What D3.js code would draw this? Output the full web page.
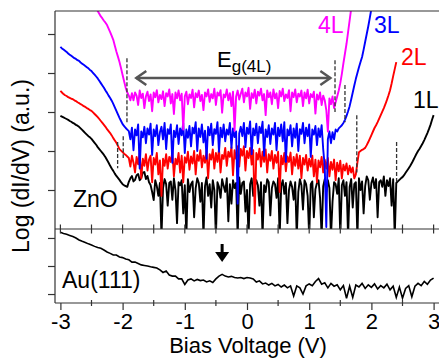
<!DOCTYPE html>
<html>
<head>
<meta charset="utf-8">
<script src="https://cdn.jsdelivr.net/npm/d3@7"></script>
<style>
  body { margin: 0; background: #fff; }
  svg { display: block; font-family: "Liberation Sans", Arial, sans-serif; }
</style>
</head>
<body>
<div id="chart"></div>
<script>
// bias grids: ZnO spectra every 0.025 V (241 pts), Au(111) every 0.05 V (121 pts)
const biasZnO = d3.range(241).map(i => +(-3 + i * 0.025).toFixed(3));
const biasAu = d3.range(121).map(i => +(-3 + i * 0.05).toFixed(2));

// ZnO layers, log(dI/dV) in a.u. (null = off the trace)
const zno1L = [
  2.90, 2.88, 2.86, 2.84, 2.82, 2.80, 2.77, 2.75, 2.72, 2.70, 2.67, 2.65, 2.62, 2.58, 2.54, 2.50, 2.46, 2.42, 2.38, 2.35,
  2.31, 2.26, 2.21, 2.16, 2.10, 2.05, 2.00, 1.95, 1.90, 1.84, 1.77, 1.70, 1.62, 1.55, 1.49, 1.42, 1.36, 1.31, 1.26, 1.20,
  1.15, 1.12, 1.10, 1.08, 1.21, 1.30, 1.36, 1.22, 1.26, 1.38, 1.41, 1.25, 1.31, 1.45, 1.46, 1.28, 1.36, 1.20, 1.13, 0.95,
  0.74,
  1.25, 1.10, 0.85, 1.18, -0.2, 1.05, 1.28, 1.15, 0.60, 1.18,
  1.22, 0.75, 1.30, 1.00, 0.15, 1.20, 1.12, 1.25, 0.40, 1.12,
  -0.2, 1.28, 0.95, 1.15, 1.22, 0.30, 1.05, 1.30, 1.18, 0.70,
  1.18, -0.2, 1.10, 1.32, 0.85, 1.15, 0.55, 1.25, 1.00, -0.2,
  1.20, 1.08, 0.80, 1.28, 1.10, 0.95, 1.30, 0.20, 1.15, 0.65,
  1.25, 1.05, 1.18, -0.2, 1.32, 0.90, 1.18, 1.22, 0.45, 1.00,
  -0.2, 1.15, 1.30, 0.85, 1.08, 1.25, 1.12, 0.60, 1.20, -0.2,
  1.12, 0.95, 1.28, 1.20, 0.35, 1.05, 1.22, 1.15, 0.80, 1.30,
  -0.2, 1.10, 1.25, 0.90, 1.18, 0.15, 1.00, 1.22, 1.08, 0.75,
  1.20, -0.2, 0.95, 1.28, 1.12, 0.50, 1.25, 1.15, 0.85, -0.2,
  1.15, 1.22, 0.30, 1.02, 1.18, 1.25, 0.80, -0.2, 1.10, 1.28,
  0.95, 1.25, 1.05, -0.2, 0.70, 1.20, 1.15, 0.90, 1.30, -0.2,
  1.12, 1.25, 0.85, 1.20, -0.2, 1.08, 1.28, 0.55, 1.15, 1.20,
  -0.2, 1.30, 1.00, 1.22, 0.40, 1.10, 1.35, 1.25, 0.75, 1.18,
  1.32, 1.05, 1.28, 0.30, 1.20, 1.25, 1.08, 1.35, 0.85, 1.25,
  1.10, 1.30, 0.60, 1.28, -0.2,
  1.18, 1.22, 1.26, 1.30, 1.33, 1.38, 1.44, 1.50, 1.56, 1.62, 1.69, 1.77, 1.85, 1.93, 2.00, 2.06, 2.13, 2.20, 2.28, 2.37,
  2.46, 2.56, 2.67, 2.80, 2.92];

const zno2L = [
  3.54, 3.50, 3.46, 3.43, 3.41, 3.38, 3.36, 3.34, 3.33, 3.30, 3.28, 3.25, 3.23, 3.20, 3.18, 3.15, 3.13, 3.10, 3.08, 3.05,
  3.03, 2.99, 2.95, 2.91, 2.87, 2.82, 2.77, 2.72, 2.67, 2.62, 2.56, 2.51, 2.46, 2.40, 2.33, 2.27, 2.21, 2.13, 2.05, 2.01,
  1.97, 1.93, 1.90, 1.86, 1.82,
  1.60, 1.88, 1.70, 1.45, 1.85, 1.66, 1.95, 1.30, 1.80, 1.62,
  1.92, 1.50, 1.78, 1.88, 1.20, 1.82, 1.65, 1.95, 1.40, 1.76,
  0.85, 1.80, 1.62, 1.92, 1.55, 1.85, 1.72, 1.98, 1.35, 1.80,
  1.66, 1.95, 1.45, 1.88, 1.20, 1.84, 1.70, 1.98, 1.52, 1.86,
  1.68, 2.00, 1.40, 1.90, 1.75, 2.02, 1.58, 1.88, 1.70, 2.00,
  1.30, 1.92, 1.78, 2.04, 1.55, 1.95, 1.72, 2.05, 1.45, 1.90,
  1.80, 2.08, 1.62, 1.98, 1.85, 2.10, 1.38, 2.02, 1.80, 2.12,
  1.60, 2.05, 1.88, 2.12, 1.50, 2.00, 1.82, 2.08, 1.65, 2.02,
  0.40, 1.95, 1.78, 2.06, 1.60, 1.98, 1.72, 2.04, 1.45, 1.92,
  1.75, 2.00, 1.55, 1.90, 1.70, 1.98, 0.95, 1.88, 1.66, 1.95,
  1.48, 1.86, 1.72, 1.96, 1.40, 1.85, 1.62, 1.92, 1.55, 1.88,
  1.30, 1.82, 1.65, 1.90, 1.50, 1.80, 1.60, 1.88, 1.35, 1.78,
  1.20, 1.76, 1.58, 1.85, 1.45, 1.78, 1.55, 1.82, 1.35, 1.72,
  1.52, 1.78, 1.25, 1.70, 1.48, 1.75, 1.30, 1.65, 1.50, 1.68,
  1.40, 1.62, 1.45, 1.58, 1.30, 1.40,
  1.70, 1.97, 2.00, 2.03, 2.05, 2.08, 2.15, 2.23, 2.32, 2.41, 2.50, 2.59, 2.66, 2.74, 2.83, 2.92, 3.01, 3.10, 3.20, 3.31,
  3.43, 3.56, 3.73, 3.92, 4.10, 4.28,
  null, null, null, null, null, null, null, null, null, null, null, null,
  null, null, null, null, null, null, null, null, null, null, null, null];

const zno3L = [
  4.67, 4.63, 4.60, 4.57, 4.54, 4.50, 4.47, 4.44, 4.41, 4.38, 4.36, 4.33, 4.31, 4.27, 4.24, 4.21, 4.18, 4.15, 4.12, 4.08,
  4.05, 4.00, 3.96, 3.91, 3.86, 3.80, 3.74, 3.68, 3.62, 3.55, 3.49, 3.42, 3.36, 3.29, 3.21, 3.12, 3.03, 2.94, 2.85, 2.77,
  2.69, 2.64, 2.59, 2.55, 2.51,
  2.30, 2.60, 2.02, 2.55, 2.40, 2.68, 1.55, 2.50, 2.35, 2.62,
  2.20, 2.58, 2.42, 2.70, 1.90, 2.55, 2.38, 2.66, 2.15, 2.48,
  2.62, 2.30, 2.72, 2.05, 2.56, 2.44, 2.68, 1.70, 2.52, 2.36,
  2.66, 2.18, 2.58, 2.40, 2.72, 1.95, 2.55, 2.34, 2.64, 2.12,
  2.60, 2.45, 2.74, 2.00, 2.58, 2.36, 2.68, 2.22, 2.52, 1.80,
  2.62, 2.40, 2.70, 2.15, 2.56, 2.44, 2.74, 1.98, 2.60, 2.35,
  2.68, 2.25, 2.55, 2.42, 2.72, 2.08, 2.58, 2.36, 2.50, 0.65,
  2.45, 2.62, 2.38, 2.72, 2.10, 2.60, 2.44, 2.76, 1.92, 2.58,
  2.40, 2.70, 2.20, 2.62, 2.46, 2.75, 1.88, 2.55, 2.36, 2.66,
  2.18, 2.58, 2.42, 2.72, 2.02, 2.60, 2.38, 2.68, 2.25, 2.74,
  1.72, 2.55, 2.40, 2.66, 2.12, 2.58, 2.34, 2.70, 2.00, 2.56,
  2.44, 2.72, 2.20, 2.60, 2.38, 2.68, 1.85, 2.55, 2.42, 2.64,
  2.15, 2.58, 2.36, 2.66, 2.05, 1.60, 0.05, 2.30, 2.50, 2.20,
  2.48, 2.30, 2.55, 2.50,
  2.58, 2.62, 2.66, 2.72, 2.80, 2.90, 3.02, 3.15, 3.32, 3.50, 3.68, 3.85, 4.00, 4.15, 4.28, 4.41, 4.60, 4.80, 5.00, 5.20,
  5.42, 5.65, 5.85, 6.05,
  null, null, null, null, null, null, null, null, null, null, null, null, null, null, null, null, null, null, null,
  null, null, null, null, null, null, null, null, null, null, null, null, null, null, null, null, null, null, null];

const zno4L = [
  null, null, null, null, null, null, null, null, null, null, null, null, null, null, null, null, null, null, null, null,
  null, null,
  5.72, 5.65, 5.59, 5.52, 5.45, 5.40, 5.34, 5.29, 5.23, 5.14, 5.05, 4.95, 4.85, 4.70, 4.55, 4.42, 4.28, 4.12, 3.95, 3.78,
  3.62, 3.50, 3.42, 3.30, 3.48,
  3.30, 3.50, 3.42, 3.18, 3.55, 3.36, 3.47, 3.10, 3.40, 3.52,
  3.28, 3.45, 3.02, 3.50, 3.38, 3.56, 3.25, 3.44, 3.33, 3.53,
  3.15, 3.48, 3.40, 3.58, 3.22, 3.46, 2.95, 3.50, 3.35, 3.55,
  3.30, 3.47, 2.55, 3.40, 3.52, 3.20, 3.45, 3.36, 3.57, 3.12,
  3.48, 3.38, 3.55, 3.28, 3.44, 3.05, 3.50, 3.40, 3.58, 3.26,
  3.46, 3.35, 3.60, 3.18, 3.50, 3.42, 3.56, 2.98, 3.45, 3.38,
  3.58, 3.30, 3.48, 3.15, 3.52, 2.52, 3.40, 3.55, 3.32, 3.47,
  3.60, 3.25, 3.50, 3.40, 3.62, 3.08, 3.48, 3.36, 3.57, 3.22,
  3.52, 3.42, 3.60, 3.30, 3.46, 2.92, 3.55, 3.38, 3.50, 3.20,
  3.58, 3.35, 3.48, 3.10, 3.54, 3.40, 3.60, 3.28, 3.45, 3.36,
  3.56, 3.02, 3.50, 3.38, 3.58, 3.25, 3.47, 3.40, 3.55, 3.15,
  3.50, 3.35, 3.57, 3.22, 3.46, 3.38, 3.52, 2.96, 3.45, 3.32,
  3.50, 3.18, 3.42, 3.30, 3.05, 2.50, 3.35, 3.20, 3.40, 3.10,
  3.25, 3.40, 3.55, 3.74, 3.98, 4.25, 4.50, 4.75, 5.05, 5.35, 5.65, 6.00,
  null, null, null, null, null, null, null, null, null, null, null, null, null, null, null, null, null, null, null, null,
  null, null, null, null, null, null, null, null, null, null, null, null, null, null, null, null, null, null, null, null,
  null, null, null, null, null, null, null, null, null, null, null, null];

// Au(111) reference spectrum
const au111 = [2.20, 2.16, 2.13, 2.09, 2.05, 2.00, 1.93, 1.88, 1.84, 1.79, 1.75, 1.70, 1.66, 1.63, 1.57, 1.50, 1.45, 1.39, 1.39, 1.32,
  1.30, 1.25, 1.22, 1.14, 1.14, 1.09, 1.04, 1.02, 1.00, 0.97, 0.95, 0.93, 0.86, 0.77, 0.82, 0.68, 0.64, 0.64, 0.54, 0.54,
  0.34, 0.50, 0.54, 0.47, 0.52, 0.48, 0.50, 0.43, 0.47, 0.41, 0.54, 0.64, 0.70, 0.64, 0.61, 0.63, 0.59, 0.57, 0.59, 0.55,
  0.59, 0.57, 0.54, 0.43, 0.47, 0.36, 0.39, 0.32, 0.38, 0.29, 0.34, 0.25, 0.32, 0.22, 0.29, -0.07, 0.29, 0.22, 0.00, 0.29,
  0.36, 0.30, 0.45, 0.55, 0.35, 0.40, 0.22, 0.38, 0.28, 0.33, 0.15, 0.30, -0.15, 0.28, -0.12, 0.32, 0.25, 0.38, 0.20, 0.33,
  0.24, 0.36, 0.18, 0.30, 0.22, 0.35, 0.15, 0.28, -0.12, 0.25, -0.15, 0.20, 0.30, -0.10, 0.28, 0.38, 0.30, 0.45, 0.35, 0.50,
  0.57];

const layers = [
  { name: "1L", values: zno1L, color: "#000000" },
  { name: "2L", values: zno2L, color: "#ff0000" },
  { name: "3L", values: zno3L, color: "#0000ff" },
  { name: "4L", values: zno4L, color: "#ff00ff" }
];

// gap edges: [bias, yFrom, yTo]
const gapMarks = [[-1.93, 4.38, 2.72], [-1.99, 2.38, 1.82], [-2.08, 2.23, 1.56],
  [1.415, 4.33, 3.0], [1.575, 3.69, 2.74], [1.765, 2.92, 1.45], [2.405, 2.23, 1.18]];
const xTicks = [-3, -2, -1, 0, 1, 2, 3];

const width = 439, height = 358;
const svg = d3.select("#chart").append("svg")
  .attr("width", width).attr("height", height);

const x = d3.scaleLinear().domain([-3, 3]).range([60.4, 433.6]);
const yTop = d3.scaleLinear().domain([0, 5.59]).range([229, 11]);
const yBot = d3.scaleLinear().domain([-0.32, 2.32]).range([303, 229]);

const defs = svg.append("defs");
defs.append("clipPath").attr("id", "clipTop").append("rect")
  .attr("x", 55).attr("y", 11).attr("width", width - 55).attr("height", 218);
defs.append("clipPath").attr("id", "clipBot").append("rect")
  .attr("x", 55).attr("y", 229).attr("width", width - 55).attr("height", 74);

// curves
const lineTop = d3.line()
  .defined(d => d[1] != null)
  .x(d => x(d[0])).y(d => yTop(d[1]));
const lineBot = d3.line().x(d => x(d[0])).y(d => yBot(d[1]));

const gTop = svg.append("g").attr("clip-path", "url(#clipTop)");
layers.forEach(l => {
  gTop.append("path")
    .datum(biasZnO.map((b, i) => [b, l.values[i]]))
    .attr("d", lineTop)
    .attr("fill", "none")
    .attr("stroke", l.color)
    .attr("stroke-width", 1.9)
    .attr("stroke-linejoin", "round");
});

svg.append("g").attr("clip-path", "url(#clipBot)")
  .append("path")
  .datum(biasAu.map((b, i) => [b, au111[i]]))
  .attr("d", lineBot)
  .attr("fill", "none")
  .attr("stroke", "#000")
  .attr("stroke-width", 1.6);

// dashed gap edges
svg.append("g").selectAll("line").data(gapMarks).join("line")
  .attr("x1", d => x(d[0])).attr("x2", d => x(d[0]))
  .attr("y1", d => yTop(d[1])).attr("y2", d => yTop(d[2]))
  .attr("stroke", "#333").attr("stroke-width", 1.3)
  .attr("stroke-dasharray", "4,2");

// frame
const frame = svg.append("g").attr("stroke", "#333").attr("stroke-width", 1.2);
frame.append("line").attr("x1", 55).attr("x2", width).attr("y1", 11).attr("y2", 11);
frame.append("line").attr("x1", 55).attr("x2", width).attr("y1", 229).attr("y2", 229);
frame.append("line").attr("x1", 55).attr("x2", width).attr("y1", 303).attr("y2", 303);
frame.append("line").attr("x1", 55).attr("x2", 55).attr("y1", 11).attr("y2", 303);

// y ticks (no labels)
svg.append("g").attr("transform", "translate(55,0)")
  .call(d3.axisLeft(yTop).tickValues([1, 2, 3, 4, 5]).tickSize(7).tickFormat(""))
  .call(g => g.select(".domain").remove())
  .call(g => g.selectAll("line").attr("stroke", "#333").attr("stroke-width", 1.2));
svg.append("g").attr("transform", "translate(55,0)")
  .call(d3.axisLeft(yBot).tickValues([0, 1, 2]).tickSize(7).tickFormat(""))
  .call(g => g.select(".domain").remove())
  .call(g => g.selectAll("line").attr("stroke", "#333").attr("stroke-width", 1.2));

// x ticks on the panel divider
const halfTicks = d3.range(13).map(i => -3 + i * 0.5);
svg.append("g").selectAll("line").data(halfTicks).join("line")
  .attr("x1", d => x(d)).attr("x2", d => x(d))
  .attr("y1", 224.5).attr("y2", 233.5)
  .attr("stroke", "#333").attr("stroke-width", 1.2);
// minor ticks on bottom axis
svg.append("g").selectAll("line").data(halfTicks.filter(d => d % 1 !== 0)).join("line")
  .attr("x1", d => x(d)).attr("x2", d => x(d))
  .attr("y1", 300).attr("y2", 306)
  .attr("stroke", "#333").attr("stroke-width", 1.2);

// bottom axis
svg.append("g").attr("transform", "translate(0,303)")
  .call(d3.axisBottom(x).tickValues(xTicks).tickSize(7).tickPadding(3).tickFormat(d => String(d)))
  .call(g => g.select(".domain").remove())
  .call(g => g.selectAll("line").attr("stroke", "#333").attr("stroke-width", 1.2))
  .call(g => g.selectAll("text").attr("font-size", 22).attr("fill", "#000")
    .attr("font-family", "'Liberation Sans', Arial, sans-serif"));

// axis titles
svg.append("text").attr("x", 248).attr("y", 353).attr("text-anchor", "middle")
  .attr("font-size", 22).text("Bias Voltage (V)");
svg.append("text").attr("transform", "translate(29,166) rotate(-90)")
  .attr("text-anchor", "middle").attr("font-size", 23).text("Log (dI/dV) (a.u.)");

// layer labels
const labelPos = { "4L": [318, 33], "3L": [374, 33], "2L": [401, 65], "1L": [413, 108] };
layers.forEach(l => {
  svg.append("text").attr("x", labelPos[l.name][0]).attr("y", labelPos[l.name][1])
    .attr("font-size", 23).attr("fill", l.color).text(l.name);
});

svg.append("text").attr("x", 73).attr("y", 207).attr("font-size", 23).text("ZnO");
svg.append("text").attr("x", 62).attr("y", 288).attr("font-size", 23).text("Au(111)");

// Eg(4L) double arrow
const arrowG = svg.append("g").attr("stroke", "#555").attr("stroke-width", 2.5).attr("fill", "none");
const ax0 = x(-1.78), ax1 = x(1.34), ay = 78;
arrowG.append("line").attr("x1", ax0).attr("x2", ax1).attr("y1", ay).attr("y2", ay);
arrowG.append("polyline").attr("points", `${ax0 + 10},${ay - 7} ${ax0},${ay} ${ax0 + 10},${ay + 7}`);
arrowG.append("polyline").attr("points", `${ax1 - 10},${ay - 7} ${ax1},${ay} ${ax1 - 10},${ay + 7}`);

const eg = svg.append("text").attr("x", 217).attr("y", 67).attr("font-size", 22);
eg.append("tspan").text("E");
eg.append("tspan").attr("font-size", 17).attr("dy", 5).text("g(4L)");

// feature arrow on Au(111)
const fx = x(-0.4);
svg.append("line").attr("x1", fx).attr("x2", fx).attr("y1", 244).attr("y2", 254)
  .attr("stroke", "#000").attr("stroke-width", 3);
svg.append("path").attr("d", `M${fx - 7},252 L${fx + 7},252 L${fx},262 Z`).attr("fill", "#000");
</script>
</body>
</html>
